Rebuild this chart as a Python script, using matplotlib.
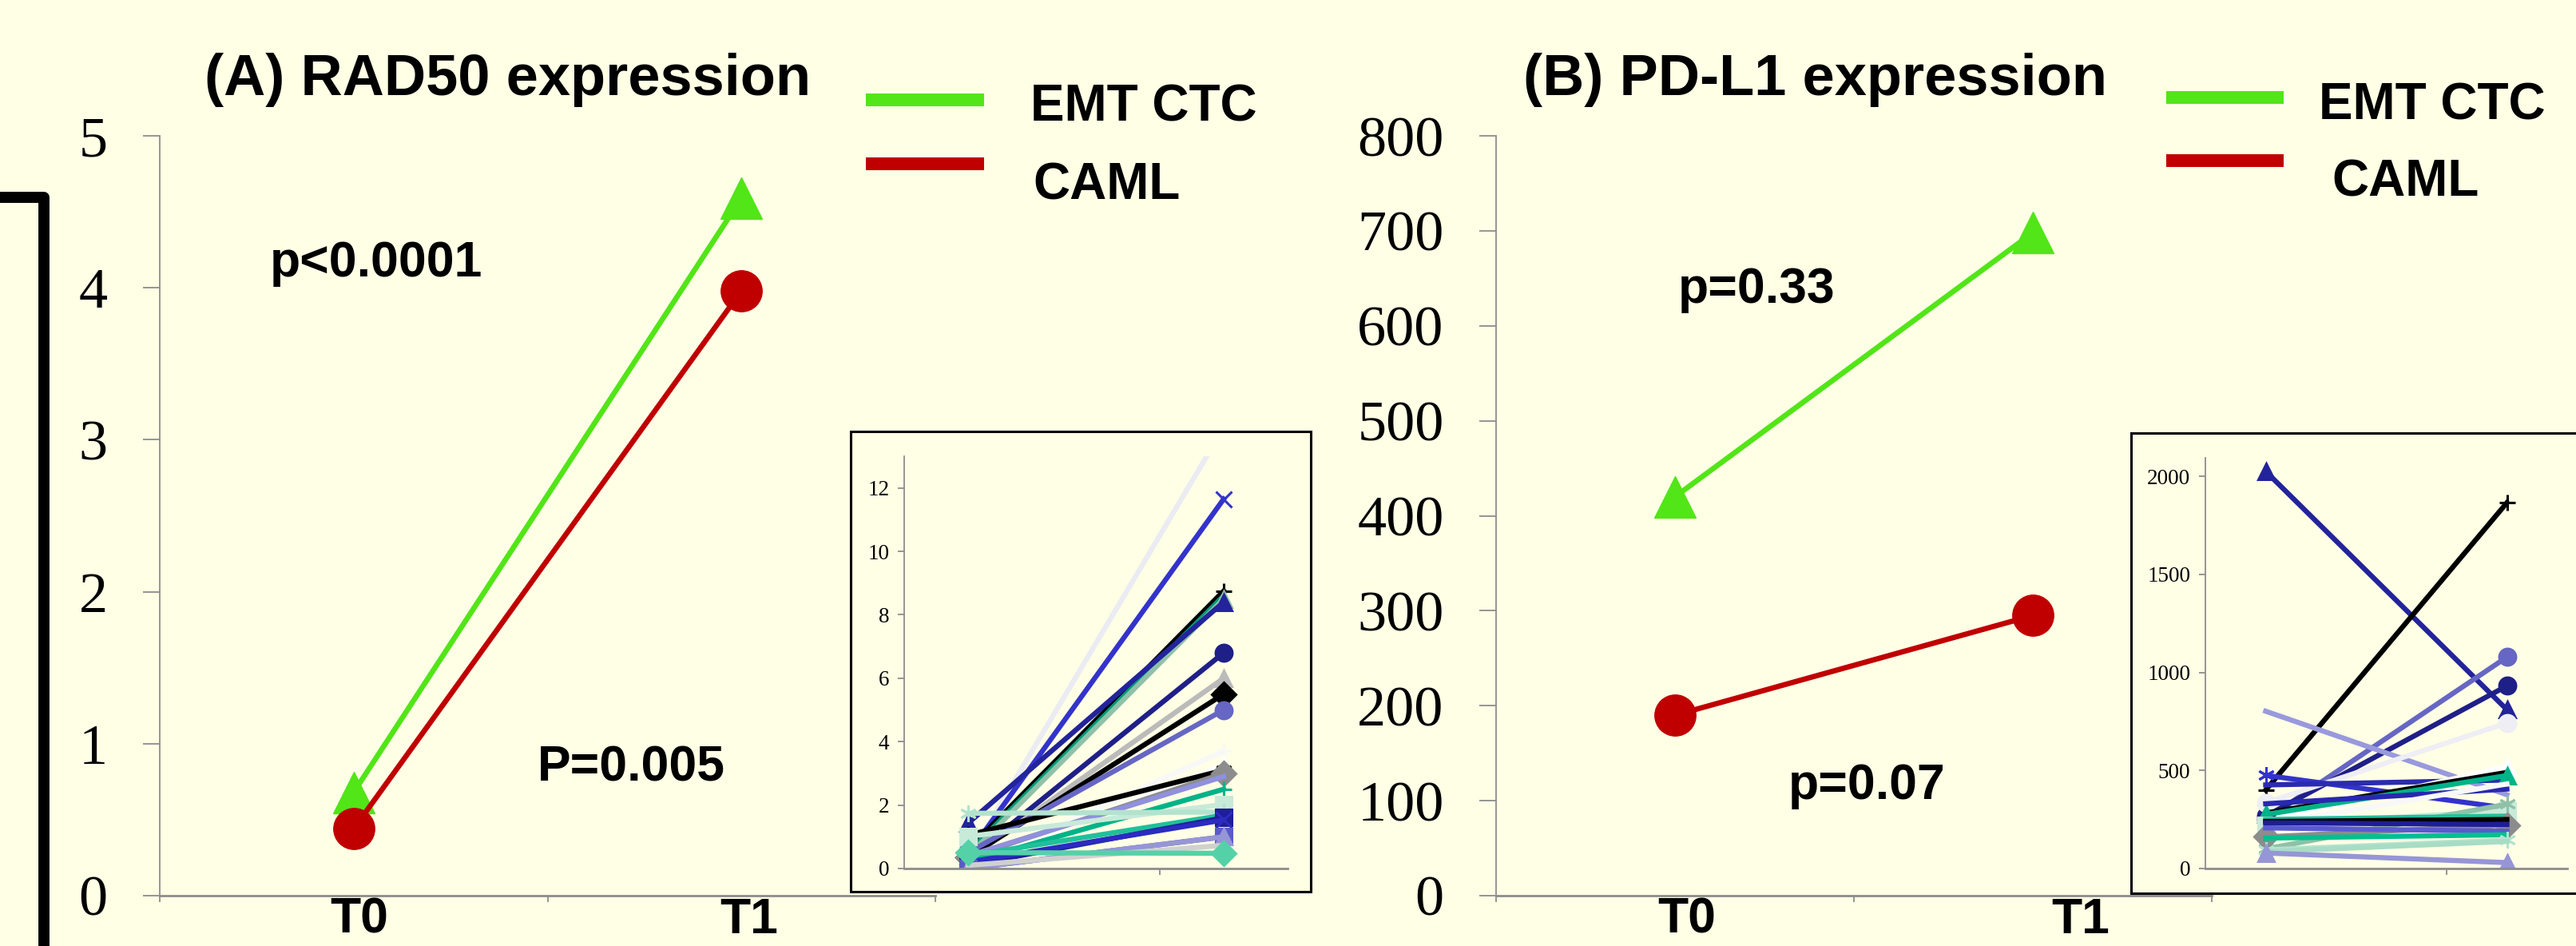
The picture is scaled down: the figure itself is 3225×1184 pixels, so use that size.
import matplotlib
matplotlib.use("Agg")
import matplotlib.pyplot as plt
from matplotlib.lines import Line2D
from matplotlib.patches import Rectangle

# ---------------- data ----------------
categories = ["T0", "T1"]

rad50_emt_ctc = [0.68, 4.59]
rad50_caml = [0.44, 3.98]
pdl1_emt_ctc = [420, 698]
pdl1_caml = [190, 295]

# individual patient traces (inset A: RAD50)
rad50_ind_t0 = [0.30, 0.45, 0.60, 0.50, 0.40, 1.43, 0.30, 0.30, 0.35, 0.50,
                0.05, 0.10, 1.05, 0.35, 0.40, 0.20, 1.01, 1.74, 0.40, 0.10,
                0.20, 0.00, 0.00, 0.10, 0.50]
rad50_ind_t1 = [13.9, 11.65, 8.75, 8.60, 8.50, 8.40, 6.80, 6.00, 5.50, 5.00,
                3.70, 3.25, 3.10, 3.00, 2.90, 2.50, 2.02, 1.78, 1.68, 1.60,
                1.53, 1.00, 1.00, 0.73, 0.48]

# individual patient traces (inset B: PD-L1)
pdl1_ind_t0 = [2025, 400, 250, 267, 802, 335, 475, 426, 241, 283,
               275, 330, 224, 221, 100, 250, 161, 240, 207, 155,
               95, 86, 79, 233]
pdl1_ind_t1 = [810, 1865, 1078, 931, 376, 742, 308, 451, 519, 490,
               474, 405, 431, 295, 328, 267, 221, 250, 190, 172,
               145, 138, 30, 224]

rad50_yticks = [0, 1, 2, 3, 4, 5]
pdl1_yticks = [0, 100, 200, 300, 400, 500, 600, 700, 800]
rad50_inset_yticks = [0, 2, 4, 6, 8, 10, 12]
pdl1_inset_yticks = [0, 500, 1000, 1500, 2000]

# ---------------- styles ----------------
AST = (6, 2, 0)
rad50_styles = [
    ("#EBEBF3", None), ("#3333CC", "x"), ("#000000", "+"), ("#009977", None),
    ("#8FC1A9", "^"), ("#23239B", "^"), ("#1F1F88", "o"), ("#BBBBBB", "^"),
    ("#000000", "D"), ("#6666C4", "o"), ("#F8F8F8", "+"), ("#FFFFFF", "^"),
    ("#000000", AST), ("#8C8C8C", "D"), ("#9090DD", None), ("#00B388", "+"),
    ("#C8EAD9", "s"), ("#B3E3CE", AST), ("#20C09A", None), ("#1E1E96", "s"),
    ("#2B2BC0", "x"), ("#5A5AC8", "s"), ("#9696D6", "^"), ("#D0D0D0", None),
    ("#55D1A8", "D"),
]
pdl1_styles = [
    ("#23239B", "^"), ("#000000", "+"), ("#6666C4", "o"), ("#1F1F88", "o"),
    ("#9999DD", None), ("#EEEEF4", "o"), ("#3333CC", AST), ("#2B2BB0", None),
    ("#FFFFFF", "^"), ("#000000", None), ("#00B388", "^"), ("#2828B0", None),
    ("#F8F8F8", None), ("#C8EAD9", "s"), ("#8FC1A9", AST), ("#20C09A", None),
    ("#8C8C8C", "D"), ("#000000", None), ("#5A5AD0", None), ("#00C090", None),
    ("#B3E3CE", AST), ("#A8DCC4", None), ("#9696D6", "^"), ("#1E1E96", None),
]

BG = "#FFFFE6"
GREEN = "#52E517"
RED = "#C00000"
AXGRAY = "#8C8C8C"
SANS = ["Liberation Sans", "DejaVu Sans"]
SERIF = ["Liberation Serif", "DejaVu Serif"]

W, H = 3225, 1184
fig = plt.figure(figsize=(W / 100, H / 100), dpi=100, facecolor=BG)


def fx(px):
    return px / W


def fy(py):
    return 1 - py / H


def rect(x0, y0, x1, y1):
    return [fx(x0), fy(y1), (x1 - x0) / W, (y1 - y0) / H]


def style_axes(ax, ytick_fs, ytl, ytick_pad, xt_len):
    ax.set_facecolor("none")
    for s in ("top", "right"):
        ax.spines[s].set_visible(False)
    ax.spines["left"].set_color(AXGRAY)
    ax.spines["bottom"].set_color(AXGRAY)
    ax.spines["left"].set_linewidth(1.3)
    ax.spines["bottom"].set_linewidth(2.0)
    ax.tick_params(axis="y", direction="out", length=ytl, width=1.3,
                   color=AXGRAY, pad=ytick_pad, labelsize=ytick_fs)
    ax.tick_params(axis="x", direction="out", length=xt_len, width=1.3,
                   color=AXGRAY, labelbottom=False)
    for lab in ax.get_yticklabels():
        lab.set_fontfamily(SERIF)


# ---------------- left decorative frame ----------------
fig.add_artist(Line2D([fx(0), fx(55), fx(55)], [fy(247), fy(247), fy(1200)],
                      transform=fig.transFigure, color="black", lw=10,
                      solid_joinstyle="round"))

# ---------------- main panel A ----------------
xpos = list(range(len(categories)))
axA = fig.add_axes(rect(200, 170, 1171, 1121))
axA.plot(xpos, rad50_emt_ctc, color=GREEN, lw=4.8, marker="^", ms=37, clip_on=False)
axA.plot(xpos, rad50_caml, color=RED, lw=4.8, marker="o", ms=37, clip_on=False)
axA.set_xlim(-0.5, 1.5)
axA.set_ylim(0, 5)
axA.set_xticks([-0.5, 0.5, 1.5])
axA.set_yticks(rad50_yticks)
style_axes(axA, 52, 15, 32, 6)

# ---------------- main panel B ----------------
axB = fig.add_axes(rect(1873, 170, 2769, 1121))
axB.plot(xpos, pdl1_emt_ctc, color=GREEN, lw=4.8, marker="^", ms=37, clip_on=False)
axB.plot(xpos, pdl1_caml, color=RED, lw=4.8, marker="o", ms=37, clip_on=False)
axB.set_xlim(-0.5, 1.5)
axB.set_ylim(0, 800)
axB.set_xticks([-0.5, 0.5, 1.5])
axB.set_yticks(pdl1_yticks)
style_axes(axB, 52, 15, 32, 6)

# ---------------- inset boxes ----------------
for (x0, y0, x1, y1) in [(1065, 540, 1641, 1116), (2668, 542, 3260, 1118)]:
    fig.patches.append(Rectangle((fx(x0), fy(y1)), (x1 - x0) / W, (y1 - y0) / H,
                                 transform=fig.transFigure, facecolor=BG,
                                 edgecolor="black", lw=2.2, zorder=1))

inset_x = [0, 2]

axIA = fig.add_axes(rect(1132, 571, 1612, 1087))
axIA.set_zorder(2)
for t0, t1, (c, m) in zip(rad50_ind_t0, rad50_ind_t1, rad50_styles):
    axIA.plot(inset_x, [t0, t1], color=c, lw=4.6, marker=m, ms=15, mew=2.2)
axIA.set_xlim(-0.5, 2.5)
axIA.set_ylim(0, 13)
axIA.set_xticks([1.5])
axIA.set_yticks(rad50_inset_yticks)
style_axes(axIA, 19.5, 5.5, 8, 5.5)

axIB = fig.add_axes(rect(2761, 573, 3214, 1087))
axIB.set_zorder(2)
for t0, t1, (c, m) in zip(pdl1_ind_t0, pdl1_ind_t1, pdl1_styles):
    axIB.plot(inset_x, [t0, t1], color=c, lw=4.6, marker=m, ms=15, mew=2.2)
axIB.set_xlim(-0.5, 2.5)
axIB.set_ylim(0, 2094)
axIB.set_xticks([1.5])
axIB.set_yticks(pdl1_inset_yticks)
style_axes(axIB, 19.5, 5.5, 8, 5.5)

# ---------------- texts ----------------
def btext(px, py, s, size, ha="left"):
    fig.text(fx(px), fy(py), s, fontsize=size, fontweight="bold",
             family=SANS, ha=ha, va="baseline", color="black")


btext(256, 119, "(A) RAD50 expression", 52)
btext(1907, 119, "(B) PD-L1 expression", 52)

btext(338, 346, "p<0.0001", 45)
btext(673, 978, "P=0.005", 45)
btext(2101, 379, "p=0.33", 45)
btext(2239, 1000, "p=0.07", 45)

# legends
for (lx0, lx1, gy, ry, tx1, ty1, tx2, ty2) in [
        (1084, 1232, 125, 205, 1290, 152, 1293, 249),
        (2712, 2859, 121.5, 201.5, 2903, 149, 2919, 245)]:
    fig.add_artist(Line2D([fx(lx0), fx(lx1)], [fy(gy), fy(gy)],
                          transform=fig.transFigure, color=GREEN, lw=11.5,
                          solid_capstyle="butt"))
    fig.add_artist(Line2D([fx(lx0), fx(lx1)], [fy(ry), fy(ry)],
                          transform=fig.transFigure, color=RED, lw=11.5,
                          solid_capstyle="butt"))
    btext(tx1, ty1, "EMT CTC", 46)
    btext(tx2, ty2, "CAML", 46)

# category labels (kept fully inside the bottom edge)
btext(450, 1168, categories[0], 45, ha="center")
btext(938, 1168, categories[1], 45, ha="center")
btext(2112, 1168, categories[0], 45, ha="center")
btext(2605, 1168, categories[1], 45, ha="center")

fig.savefig("out.png", dpi=100, facecolor=BG)
